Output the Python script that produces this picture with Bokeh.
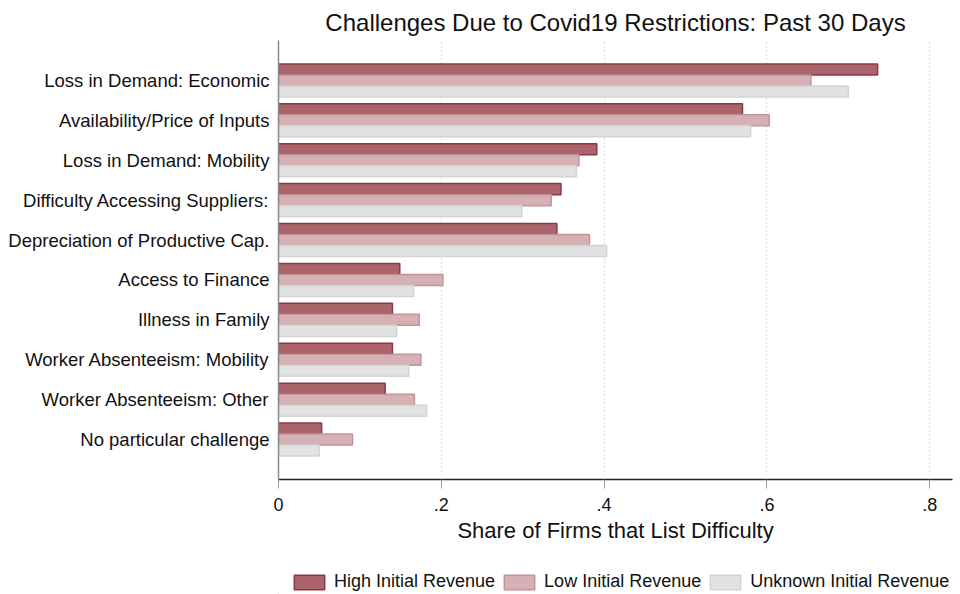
from bokeh.plotting import figure
from bokeh.layouts import column
from bokeh.models import Range1d, FixedTicker, Legend, LegendItem, ColumnDataSource
from bokeh.embed import file_html
from bokeh.resources import INLINE

categories = [
    "Loss in Demand: Economic",
    "Availability/Price of Inputs",
    "Loss in Demand: Mobility",
    "Difficulty Accessing Suppliers:",
    "Depreciation of Productive Cap.",
    "Access to Finance",
    "Illness in Family",
    "Worker Absenteeism: Mobility",
    "Worker Absenteeism: Other",
    "No particular challenge",
]
high_rev = [0.736, 0.570, 0.391, 0.347, 0.342, 0.149, 0.140, 0.140, 0.131, 0.053]
low_rev = [0.654, 0.603, 0.369, 0.335, 0.382, 0.202, 0.173, 0.175, 0.167, 0.091]
unknown_rev = [0.700, 0.580, 0.366, 0.299, 0.403, 0.166, 0.145, 0.160, 0.182, 0.050]
series_names = ["High Initial Revenue", "Low Initial Revenue", "Unknown Initial Revenue"]
x_ticks = [0, 0.2, 0.4, 0.6, 0.8]
x_tick_labels = ["0", ".2", ".4", ".6", ".8"]

FONT = "Liberation Sans"
n = len(categories)
centers = [n - i for i in range(n)]
bar_h = 0.276

p = figure(width=960, height=560, output_backend="svg", toolbar_location=None,
           x_range=Range1d(0, 0.828), y_range=Range1d(0, n + 1),
           min_border_left=278, min_border_right=8, min_border_top=40, min_border_bottom=81)

p.title.text = "Challenges Due to Covid19 Restrictions: Past 30 Days"
p.title.text_font = FONT
p.title.text_font_size = "24px"
p.title.text_font_style = "normal"
p.title.align = "center"
p.title.text_color = "#111111"

styles = [
    ("#ab646b", "#8a3a44"),
    ("#d5b0b5", "#c4939a"),
    ("#e2e2e2", "#d4d4d4"),
]
offsets = [bar_h, 0.0, -bar_h]
for vals, off, (fc, lc) in zip([high_rev, low_rev, unknown_rev], offsets, styles):
    src = ColumnDataSource(dict(y=[c + off for c in centers], right=vals))
    p.hbar(y="y", left=0, right="right", height=bar_h, source=src,
           fill_color=fc, line_color=lc, line_width=1.5)

# x axis
p.xaxis.ticker = FixedTicker(ticks=x_ticks)
p.xaxis.major_label_overrides = {t: l for t, l in zip(x_ticks, x_tick_labels)}
p.xaxis.major_label_text_font = FONT
p.xaxis.major_label_text_font_size = "18px"
p.xaxis.major_label_text_color = "#111111"
p.xaxis.axis_label = "Share of Firms that List Difficulty"
p.xaxis.axis_label_text_font = FONT
p.xaxis.axis_label_text_font_size = "22px"
p.xaxis.axis_label_text_font_style = "normal"
p.xaxis.axis_label_text_color = "#111111"
p.xaxis.axis_label_standoff = 4
p.xaxis.axis_line_color = "#222222"
p.xaxis.axis_line_width = 1.5
p.xaxis.major_tick_line_color = "#999999"
p.xaxis.major_tick_out = 9
p.xaxis.major_tick_in = 0
p.xaxis.minor_tick_line_color = None
p.xaxis.major_label_standoff = 9

# y axis
p.yaxis.ticker = FixedTicker(ticks=centers)
p.yaxis.major_label_overrides = {c: cat for c, cat in zip(centers, categories)}
p.yaxis.major_label_text_font = FONT
p.yaxis.major_label_text_font_size = "18.5px"
p.yaxis.major_label_text_color = "#111111"
p.yaxis.axis_line_color = "#8a8a8a"
p.yaxis.axis_line_width = 1.5
p.yaxis.major_tick_line_color = None
p.yaxis.major_tick_out = 0
p.yaxis.major_tick_in = 0
p.yaxis.minor_tick_line_color = None
p.yaxis.major_label_standoff = 9

p.ygrid.grid_line_color = None
p.xgrid.ticker = FixedTicker(ticks=x_ticks[1:])
p.xgrid.grid_line_color = "#c4c4c4"
p.xgrid.grid_line_dash = "1 3"
p.xgrid.grid_line_width = 1.2
p.outline_line_color = None

# legend strip below the chart (its frame is aligned with the main frame)
p2 = figure(width=960, height=34, output_backend="svg", toolbar_location=None,
            x_range=Range1d(0, 1), y_range=Range1d(0, 1),
            min_border_left=0, min_border_right=0, min_border_top=0, min_border_bottom=0)
p2.axis.visible = False
p2.grid.visible = False
p2.outline_line_color = None
keys = []
for fc, lc in styles:
    # legend key renderers, placed far outside the visible range
    keys.append(p2.hbar(y=[-50], left=[-50], right=[-49], height=0.5,
                        fill_color=fc, line_color=lc, line_width=1.5))
legend = Legend(items=[LegendItem(label=nm, renderers=[r]) for nm, r in zip(series_names, keys)],
                orientation="horizontal", location=(12, 2))
legend.label_text_font = FONT
legend.label_text_font_size = "18px"
legend.label_text_color = "#111111"
legend.glyph_width = 38
legend.glyph_height = 18
legend.label_standoff = 6
legend.spacing = 5
legend.padding = 0
legend.margin = 0
legend.border_line_color = None
legend.background_fill_alpha = 0
p2.add_layout(legend, "center")

layout = column(p, p2, spacing=0)
open("out.html", "w").write(file_html(layout, INLINE))
